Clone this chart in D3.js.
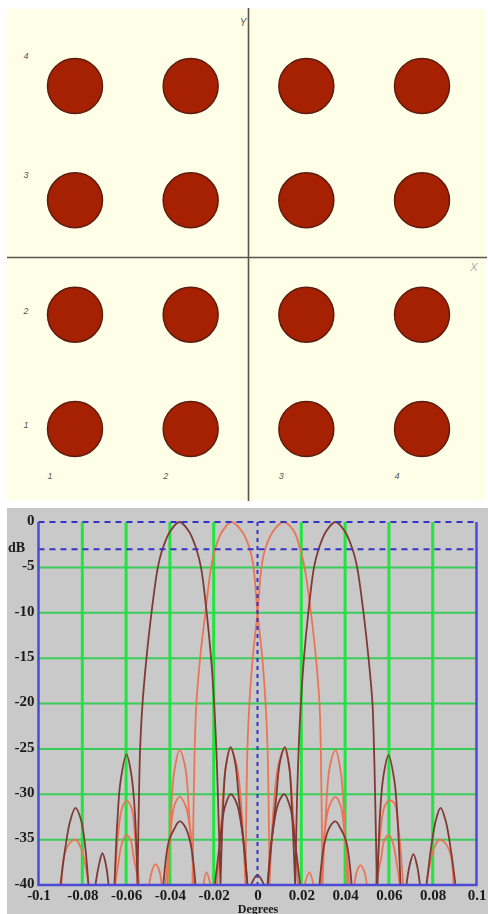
<!DOCTYPE html>
<html lang="en">
<head>
<meta charset="UTF-8">
<title>Array layout and beam pattern</title>
<script src="https://d3js.org/d3.v7.min.js"></script>
<style>
    html, body { margin: 0; padding: 0; background: #fff; overflow: hidden; }
    svg { display: block; filter: blur(0.6px); }
    .tick text { font-family: "Liberation Serif", serif; font-weight: bold; font-size: 15px; fill: #1a1a1a; }
</style>
</head>
<body>
<div id="chartArea"></div>
<script>
    // top panel: 4 x 4 element grid
    const elementIndex = [1, 2, 3, 4];
    const elementLabels = ['1', '2', '3', '4'];

    // bottom panel: ticks
    const degreeTicks = [-0.1, -0.08, -0.06, -0.04, -0.02, 0, 0.02, 0.04, 0.06, 0.08, 0.1];
    const degreeLabels = ['-0.1', '-0.08', '-0.06', '-0.04', '-0.02', '0', '0.02', '0.04', '0.06', '0.08', '0.1'];
    const degreeGrid = [-0.08, -0.06, -0.04, -0.02, 0.02, 0.04, 0.06, 0.08];
    const dbTicks = [0, -5, -10, -15, -20, -25, -30, -35, -40];
    const dbGrid = [-5, -10, -15, -20, -25, -30, -35];
    const dashedDb = [0, -3];
    const dashedDegrees = [0];

    // beam patterns as [degrees, dB], null = below -40 dB
    const darkLeft = [
        [-0.09, -40], [-0.0878, -36], [-0.0856, -33], [-0.0831, -31.5], [-0.0806, -32.8], [-0.0788, -35.5], [-0.0772, -40], null,
        [-0.074, -40], [-0.0724, -37.8], [-0.0708, -36.5], [-0.0692, -37.8], [-0.068, -40], null,
        [-0.0653, -40], [-0.064, -33], [-0.0625, -28.5], [-0.0598, -25.6], [-0.0575, -28], [-0.056, -32], [-0.0548, -40], null,
        [-0.0548, -40], [-0.0541, -30], [-0.0536, -25], [-0.0525, -20], [-0.0507, -15], [-0.0484, -10], [-0.0455, -5], [-0.0434, -3], [-0.0398, -1], [-0.0356, 0],
        [-0.0314, -1], [-0.0279, -3], [-0.0258, -5], [-0.0232, -10], [-0.0212, -15], [-0.0198, -20], [-0.0188, -25], [-0.0181, -30], [-0.0169, -40], null,
        [-0.0169, -40], [-0.0158, -32], [-0.0145, -27], [-0.0123, -24.8], [-0.0102, -26.5], [-0.0085, -30.5], [-0.0065, -35], [-0.0046, -40], null,
        [-0.003, -40], [0, -38.9], [0.003, -40], null,
        [0.0046, -40], [0.0065, -35], [0.0095, -31], [0.0122, -30], [0.015, -31.5], [0.0175, -36], [0.0195, -40], null,
        [0.0283, -40], [0.0305, -35.5], [0.033, -33.6], [0.0356, -33], [0.038, -33.8], [0.0405, -35.2], [0.043, -40]
    ];
    const darkRight = [
        [-0.043, -40], [-0.0405, -35.2], [-0.038, -33.8], [-0.0356, -33], [-0.033, -33.6], [-0.0305, -35.5], [-0.0283, -40], null,
        [-0.0195, -40], [-0.0175, -36], [-0.015, -31.5], [-0.0122, -30], [-0.0095, -31], [-0.0065, -35], [-0.0046, -40], null,
        [0.0046, -40], [0.0065, -35], [0.0085, -30.5], [0.0102, -26.5], [0.0125, -24.8], [0.0145, -27], [0.0158, -32], [0.0172, -40], null,
        [0.0172, -40], [0.0181, -30], [0.0188, -25], [0.0198, -20], [0.0212, -15], [0.0232, -10], [0.0258, -5], [0.0279, -3], [0.0314, -1], [0.0356, 0],
        [0.0398, -1], [0.0434, -3], [0.0455, -5], [0.0484, -10], [0.0507, -15], [0.0525, -20], [0.0532, -25], [0.0537, -30], [0.0545, -40], null,
        [0.0548, -40], [0.056, -32], [0.0575, -28], [0.0598, -25.7], [0.0625, -28.5], [0.064, -33], [0.0653, -40], null,
        [0.068, -40], [0.0695, -37.8], [0.0712, -36.6], [0.0728, -37.8], [0.0742, -40], null,
        [0.0772, -40], [0.0795, -35.5], [0.0815, -32.8], [0.0836, -31.5], [0.086, -33], [0.0882, -36], [0.0904, -40]
    ];
    const orangeLeft = [
        [-0.0895, -40], [-0.088, -36.5], [-0.085, -35.2], [-0.083, -35], [-0.0805, -36], [-0.0785, -38], [-0.077, -40], null,
        [-0.0653, -40], [-0.0635, -34], [-0.0618, -31.5], [-0.0598, -30.7], [-0.0575, -31.5], [-0.0558, -35], [-0.054, -40], null,
        [-0.0495, -40], [-0.048, -38.3], [-0.0466, -37.7], [-0.045, -38.3], [-0.0437, -40], null,
        [-0.0411, -40], [-0.0395, -32], [-0.038, -27.5], [-0.0356, -25.1], [-0.033, -27], [-0.031, -33], [-0.0288, -40], null,
        [-0.0297, -40], [-0.0287, -25], [-0.0279, -20], [-0.0262, -15], [-0.0238, -10], [-0.0212, -5], [-0.0194, -3], [-0.016, -1], [-0.0119, 0],
        [-0.0072, -1], [-0.0035, -3], [-0.0018, -5], [0, -10], [0.0022, -15], [0.0037, -20], [0.0046, -25], [0.0055, -40], null,
        [-0.0247, -40], [-0.0233, -38.6], [-0.0215, -40], null,
        [0.0055, -40], [0.0072, -32], [0.0095, -26.8], [0.0123, -25], [0.0145, -27], [0.0165, -33], [0.0185, -40], null,
        [0.029, -40], [0.0305, -34.5], [0.0328, -31.3], [0.0356, -30.3], [0.038, -31.3], [0.04, -35], [0.042, -40], null,
        [0.054, -40], [0.0565, -37], [0.058, -35], [0.06, -34.5], [0.062, -35.5], [0.0635, -37.5], [0.065, -40]
    ];
    const orangeRight = [
        [-0.065, -40], [-0.0635, -37.5], [-0.062, -35.5], [-0.06, -34.5], [-0.058, -35], [-0.0565, -37], [-0.054, -40], null,
        [-0.042, -40], [-0.04, -35], [-0.038, -31.3], [-0.0356, -30.3], [-0.0328, -31.3], [-0.0305, -34.5], [-0.029, -40], null,
        [-0.0185, -40], [-0.0165, -33], [-0.0145, -27], [-0.0123, -25], [-0.0095, -26.8], [-0.0072, -32], [-0.0055, -40], null,
        [-0.0055, -40], [-0.0046, -25], [-0.0037, -20], [-0.0022, -15], [0, -10], [0.0018, -5], [0.0035, -3], [0.0072, -1], [0.0119, 0],
        [0.0166, -1], [0.0195, -3], [0.0215, -5], [0.0244, -10], [0.0267, -15], [0.0283, -20], [0.0289, -25], [0.0297, -40], null,
        [0.0215, -40], [0.0237, -38.6], [0.0256, -40], null,
        [0.0297, -40], [0.031, -33], [0.033, -27], [0.0356, -25.1], [0.038, -27.5], [0.0395, -32], [0.0411, -40], null,
        [0.0442, -40], [0.0455, -38.4], [0.047, -37.8], [0.0486, -38.4], [0.05, -40], null,
        [0.054, -40], [0.0558, -35], [0.0578, -31.5], [0.06, -30.7], [0.0625, -31], [0.0645, -34], [0.0665, -40], null,
        [0.077, -40], [0.0785, -38], [0.0805, -36], [0.083, -35], [0.085, -35.2], [0.088, -36.5], [0.0895, -40]
    ];

    const width = 488, height = 914;
    const svg = d3.select("#chartArea").append("svg")
        .attr("width", width)
        .attr("height", height);

    // ---- top panel ----
    const colX = d3.scaleLinear().domain([1, 4]).range([75, 422]);
    const rowY = d3.scaleLinear().domain([1, 4]).range([429, 86]);
    const rowLabelLift = [4, 4, 25, 30];
    const layoutPanel = svg.append("g");

    layoutPanel.append("rect").attr("x", 7).attr("y", 9).attr("width", 478).attr("height", 491).attr("fill", "#ffffe8");
    layoutPanel.append("line").attr("x1", 7).attr("x2", 487).attr("y1", rowY(2.5)).attr("y2", rowY(2.5))
        .attr("stroke", "#56564a").attr("stroke-width", 1.6);
    layoutPanel.append("line").attr("x1", colX(2.5)).attr("x2", colX(2.5)).attr("y1", 8).attr("y2", 501)
        .attr("stroke", "#56564a").attr("stroke-width", 1.6);

    layoutPanel.selectAll("circle")
        .data(d3.cross(elementIndex, elementIndex))
        .enter()
        .append("circle")
        .attr("cx", d => colX(d[0]))
        .attr("cy", d => rowY(d[1]))
        .attr("r", 27.5)
        .attr("fill", "#a62102")
        .attr("stroke", "#5e1c10")
        .attr("stroke-width", 1.5);

    const smallLabel = sel => sel
        .attr("font-family", "Liberation Sans, sans-serif")
        .attr("font-style", "italic")
        .attr("font-size", 9)
        .attr("fill", "#555")
        .attr("text-anchor", "middle");

    layoutPanel.selectAll(".colLabel").data(elementIndex).enter().append("text")
        .attr("class", "colLabel")
        .attr("x", d => colX(d) - 25)
        .attr("y", 479)
        .text((d, i) => elementLabels[i])
        .call(smallLabel);
    layoutPanel.selectAll(".rowLabel").data(elementIndex).enter().append("text")
        .attr("class", "rowLabel")
        .attr("x", 26)
        .attr("y", (d, i) => rowY(d) - rowLabelLift[i] + 3)
        .text((d, i) => elementLabels[i])
        .call(smallLabel);
    layoutPanel.append("text").attr("x", 243).attr("y", 26).text("Y").call(smallLabel).attr("font-size", 10);
    layoutPanel.append("text").attr("x", 474).attr("y", 271).text("X").call(smallLabel).attr("font-size", 11).attr("fill", "#aaa");

    // ---- bottom panel ----
    const x = d3.scaleLinear().domain([-0.1, 0.1]).range([38.5, 476.5]);
    const y = d3.scaleLinear().domain([0, -40]).range([522, 885]);
    const patternPanel = svg.append("g");

    patternPanel.append("rect").attr("x", 7).attr("y", 508).attr("width", 481).attr("height", 406).attr("fill", "#c9c9c9");

    patternPanel.selectAll(".gridH").data(dbGrid).enter().append("line")
        .attr("x1", x(-0.1)).attr("x2", x(0.1))
        .attr("y1", d => y(d)).attr("y2", d => y(d))
        .attr("stroke", "#38cc58").attr("stroke-width", 2);
    patternPanel.selectAll(".gridV").data(degreeGrid).enter().append("line")
        .attr("x1", d => x(d)).attr("x2", d => x(d))
        .attr("y1", y(0)).attr("y2", y(-40))
        .attr("stroke", "#1ee63e").attr("stroke-width", 3);

    const beamLine = d3.line()
        .defined(d => d !== null)
        .x(d => x(d[0]))
        .y(d => y(d[1]))
        .curve(d3.curveCatmullRom.alpha(0.5));

    const series = [
        { values: orangeLeft, color: "#ea7555" },
        { values: orangeRight, color: "#ea7555" },
        { values: darkLeft, color: "#7f3a36" },
        { values: darkRight, color: "#7f3a36" }
    ];
    patternPanel.selectAll(".beam").data(series).enter().append("path")
        .attr("class", "beam")
        .attr("d", d => beamLine(d.values))
        .attr("fill", "none")
        .attr("stroke", d => d.color)
        .attr("stroke-width", 1.8);

    patternPanel.selectAll(".dashH").data(dashedDb).enter().append("line")
        .attr("x1", x(-0.1)).attr("x2", x(0.1))
        .attr("y1", d => y(d)).attr("y2", d => y(d))
        .attr("stroke", "#3434c8").attr("stroke-width", 2)
        .attr("stroke-dasharray", "6,5");
    patternPanel.selectAll(".dashV").data(dashedDegrees).enter().append("line")
        .attr("x1", d => x(d)).attr("x2", d => x(d))
        .attr("y1", y(0)).attr("y2", y(-40))
        .attr("stroke", "#3434c8").attr("stroke-width", 2)
        .attr("stroke-dasharray", "4,4");

    // plot border: left, bottom and right, the top edge is the dashed 0 dB line
    patternPanel.append("path")
        .attr("d", d3.line()([[x(-0.1), y(0)], [x(-0.1), y(-40)], [x(0.1), y(-40)], [x(0.1), y(0)]]))
        .attr("fill", "none")
        .attr("stroke", "#4b4bd6")
        .attr("stroke-width", 2.5);

    const xAxis = d3.axisBottom(x)
        .tickValues(degreeTicks)
        .tickFormat((d, i) => degreeLabels[i])
        .tickSize(0)
        .tickPadding(4);
    patternPanel.append("g").attr("transform", "translate(0," + y(-40) + ")").call(xAxis)
        .call(g => g.select(".domain").remove());

    const yAxis = d3.axisLeft(y)
        .tickValues(dbTicks)
        .tickFormat(d => String(d))
        .tickSize(0)
        .tickPadding(4);
    patternPanel.append("g").attr("transform", "translate(" + x(-0.1) + ",-2.5)").call(yAxis)
        .call(g => g.select(".domain").remove());

    const boldLabel = sel => sel
        .attr("font-family", "Liberation Serif, serif")
        .attr("font-weight", "bold")
        .attr("font-size", 14)
        .attr("fill", "#1a1a1a");
    patternPanel.append("text").attr("x", 8).attr("y", 552).text("dB").call(boldLabel);
    patternPanel.append("text").attr("x", 258).attr("y", 913).attr("text-anchor", "middle").text("Degrees").call(boldLabel).attr("font-size", 12);
</script>
</body>
</html>
